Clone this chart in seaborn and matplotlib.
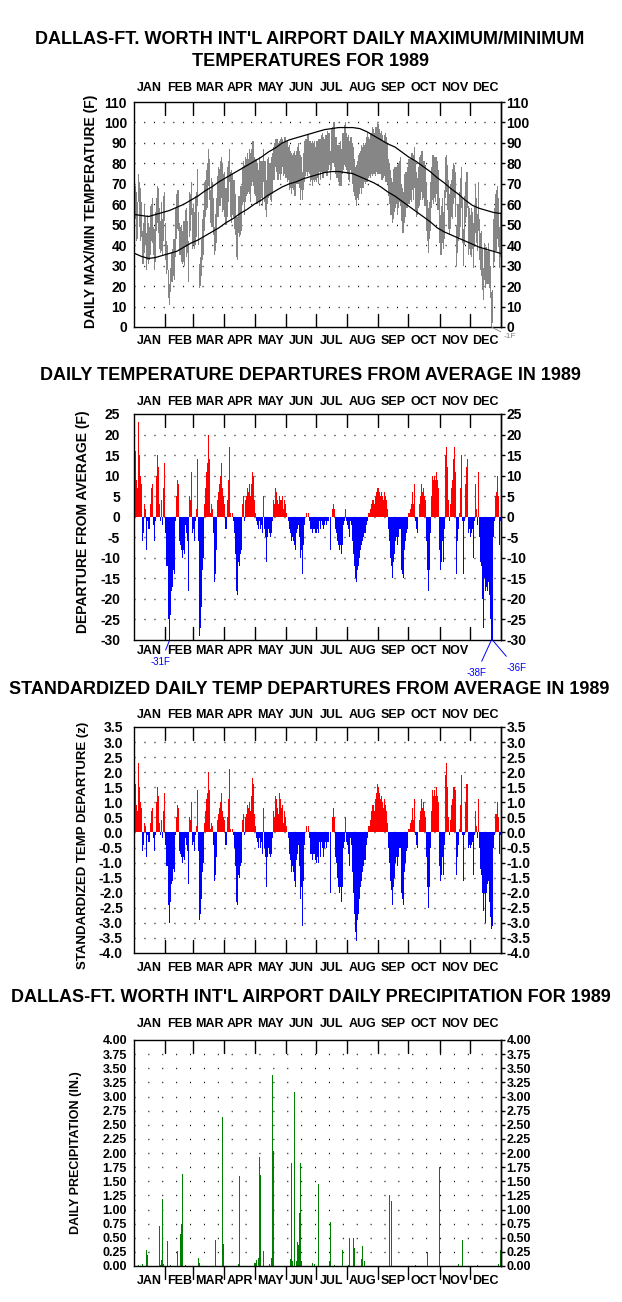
import numpy as np
import seaborn as sns
import matplotlib.pyplot as plt
from matplotlib.transforms import blended_transform_factory

months = ["JAN", "FEB", "MAR", "APR", "MAY", "JUN", "JUL", "AUG", "SEP", "OCT", "NOV", "DEC"]
month_days = [31, 28, 31, 30, 31, 30, 31, 31, 30, 31, 30, 31]

# daily maximum temperature (F), one list per month
tmax_by_month = [
    [60, 69, 66, 61, 75, 71, 68, 61, 47, 51, 60, 54, 46, 55, 51, 49, 59, 60, 63, 49, 48, 56, 63, 69, 68, 58, 52, 61, 53, 64, 66],
    [51, 42, 40, 28, 21, 29, 36, 38, 43, 43, 58, 65, 67, 67, 51, 49, 50, 47, 52, 52, 57, 58, 52, 42, 66, 65, 71, 58],
    [60, 56, 64, 66, 77, 56, 31, 34, 43, 53, 57, 71, 72, 77, 80, 87, 82, 67, 73, 71, 63, 49, 55, 63, 74, 78, 77, 81, 83, 80, 75],
    [76, 68, 78, 81, 87, 76, 77, 75, 72, 72, 65, 54, 54, 64, 64, 69, 69, 78, 81, 79, 83, 82, 85, 82, 87, 85, 87, 91, 91, 83],
    [82, 82, 80, 77, 83, 81, 81, 81, 87, 81, 81, 72, 82, 83, 80, 80, 83, 85, 88, 90, 92, 92, 92, 90, 91, 92, 93, 92, 90, 93, 93],
    [91, 91, 88, 89, 86, 85, 84, 85, 86, 84, 86, 88, 90, 86, 84, 83, 76, 85, 91, 92, 92, 94, 94, 91, 91, 90, 91, 90, 91, 88],
    [91, 91, 92, 92, 92, 94, 95, 93, 92, 94, 94, 96, 95, 95, 86, 97, 98, 100, 100, 93, 93, 89, 89, 89, 91, 87, 95, 95, 99, 100, 95],
    [93, 94, 91, 93, 93, 90, 88, 82, 78, 79, 81, 84, 85, 86, 89, 88, 90, 89, 90, 93, 95, 93, 92, 95, 95, 98, 97, 95, 98, 98, 100],
    [99, 97, 95, 96, 94, 91, 94, 95, 93, 90, 82, 80, 77, 73, 71, 77, 78, 78, 78, 79, 80, 81, 83, 70, 68, 66, 75, 76, 76, 78],
    [82, 82, 85, 85, 84, 88, 81, 76, 73, 78, 83, 84, 86, 86, 81, 81, 79, 71, 62, 58, 61, 71, 78, 84, 84, 83, 83, 83, 81, 77, 63],
    [55, 59, 63, 56, 67, 83, 84, 79, 72, 65, 70, 72, 77, 80, 79, 76, 50, 60, 60, 66, 73, 78, 63, 48, 64, 71, 76, 76, 59, 58],
    [55, 58, 56, 51, 59, 70, 63, 55, 71, 53, 46, 47, 38, 29, 41, 39, 39, 37, 41, 37, 30, 17, 18, 53, 58, 65, 67, 69, 63, 49, 56],
]

# daily minimum temperature (F)
tmin_by_month = [
    [40, 53, 42, 43, 61, 49, 42, 44, 31, 31, 36, 40, 28, 33, 31, 33, 35, 42, 41, 35, 28, 32, 47, 51, 46, 38, 36, 37, 35, 42, 52],
    [33, 26, 28, 14, 11, 17, 22, 22, 25, 23, 34, 43, 48, 47, 35, 35, 32, 31, 32, 30, 39, 34, 36, 22, 44, 47, 55, 38],
    [40, 38, 40, 44, 59, 40, 19, 20, 25, 33, 35, 47, 54, 57, 58, 69, 62, 51, 49, 49, 45, 35, 37, 41, 54, 54, 59, 59, 63, 56, 57],
    [54, 50, 54, 61, 71, 54, 51, 55, 54, 48, 45, 34, 33, 46, 44, 45, 47, 60, 61, 55, 61, 64, 65, 66, 65, 61, 69, 71, 69, 65],
    [64, 60, 60, 61, 59, 61, 63, 59, 71, 61, 57, 54, 60, 63, 64, 62, 61, 65, 72, 72, 78, 76, 72, 72, 75, 72, 75, 78, 74, 75, 73],
    [73, 71, 72, 67, 68, 65, 68, 67, 64, 64, 70, 70, 70, 68, 62, 67, 62, 67, 71, 74, 76, 74, 76, 75, 71, 72, 69, 72, 71, 72],
    [71, 73, 70, 76, 72, 76, 73, 73, 76, 76, 74, 74, 77, 79, 72, 77, 80, 80, 78, 75, 73, 73, 71, 69, 69, 69, 75, 77, 79, 78, 77],
    [75, 72, 71, 77, 75, 70, 66, 64, 62, 59, 63, 62, 65, 68, 65, 68, 68, 71, 70, 71, 71, 73, 74, 73, 75, 74, 75, 75, 74, 76, 75],
    [75, 75, 75, 72, 72, 73, 74, 71, 71, 70, 64, 60, 55, 55, 51, 53, 56, 58, 60, 55, 58, 61, 59, 52, 46, 46, 51, 54, 58, 58],
    [60, 62, 61, 67, 62, 68, 57, 54, 55, 58, 59, 62, 66, 62, 63, 59, 59, 47, 42, 36, 43, 47, 58, 62, 60, 63, 61, 65, 57, 57, 41],
    [35, 35, 41, 38, 43, 63, 66, 57, 48, 45, 48, 54, 53, 60, 63, 54, 30, 36, 42, 44, 49, 58, 41, 30, 40, 51, 54, 58, 35, 38],
    [35, 34, 38, 29, 39, 46, 41, 37, 47, 33, 28, 25, 18, 13, 23, 19, 21, 21, 21, 19, 14, -1, 2, 29, 32, 37, 37, 43, 39, 29, 34],
]

# normal max / min (F), read every 7th day
normal_day = list(range(1, 366, 7))
normal_max = [55, 54.5, 54, 55, 56, 57, 58.5, 60, 62, 64, 66.5, 68.5, 71, 73, 75, 77, 79, 81, 83, 85.5,
              87.5, 90, 91.5, 92.5, 93.5, 94.5, 95.5, 96.5, 97, 97.5, 97.5, 97.5, 97, 95.5, 93.5, 91.5,
              89.5, 88, 85.5, 83, 81, 78.5, 76, 73, 70.5, 67.5, 65, 62, 59.5, 58, 57, 56, 55.5]
normal_min = [36, 34.5, 33.5, 34, 35, 36, 37, 39, 41, 42.5, 44.5, 46.5, 48.5, 51, 53, 55.5, 57.5, 60, 62, 64.5,
              66.5, 68.5, 70, 71, 72.5, 73.5, 74.5, 75.5, 76, 76, 75.5, 75, 73.5, 72, 70.5, 68.5,
              66, 64, 61.5, 59, 56.5, 54, 51.5, 48.5, 46.5, 45, 43.5, 42, 40.5, 39, 38, 37, 36]

# daily departure from average (F)
dep_by_month = [
    [5, 16, 9, 7, 23, 15, 10, 8, -6, -4, 3, 2, -8, -1, -3, -3, 3, 7, 8, -2, -6, -1, 10, 15, 12, 3, -1, 4, -2, 7, 13],
    [-4, -12, -12, -25, -31, -24, -18, -17, -13, -14, -1, 5, 9, 8, -6, -7, -8, -10, -8, -9, -2, -4, -6, -18, 5, 4, 11, -4],
    [-3, -6, -1, 2, 14, -6, -29, -27, -22, -13, -10, 3, 7, 11, 13, 20, 14, 1, 3, 2, -4, -16, -14, -8, 4, 6, 8, 10, 13, 7, 5],
    [3, -3, 4, 9, 17, 1, 0, 1, -1, -4, -9, -18, -19, -11, -12, -9, -8, 3, 5, -1, 4, 5, 7, 6, 8, 5, 8, 11, 10, 4],
    [1, -1, -2, -3, -1, -3, -2, -4, 5, -3, -5, -11, -5, -3, -4, -5, -4, -1, 4, 3, 7, 6, 4, 3, 5, 4, 4, 5, 2, 4, 3],
    [1, 0, -1, -3, -4, -6, -5, -6, -7, -8, -4, -3, -2, -5, -10, -8, -14, -7, -2, 0, 1, 0, 1, -1, -3, -3, -4, -3, -3, -4],
    [-4, -3, -4, -1, -3, -1, -2, -3, -2, -1, -2, -1, -1, 0, -8, 0, 2, 3, 2, -3, -4, -6, -7, -8, -7, -9, -7, -2, -1, 2, -1],
    [-2, -3, -5, -1, -2, -6, -9, -12, -15, -16, -13, -12, -10, -8, -7, -6, -5, -4, -4, -2, -1, 1, 1, 2, 3, 4, 4, 3, 5, 6, 7],
    [7, 6, 5, 6, 5, 4, 6, 5, 4, 2, -3, -6, -10, -12, -15, -11, -9, -6, -5, -7, -5, -3, -3, -13, -14, -15, -8, -6, -4, -3],
    [1, 2, 3, 6, 3, 8, -1, -3, -4, 0, 3, 5, 8, 6, 7, 5, 4, -6, -13, -18, -13, -4, 5, 10, 9, 10, 9, 11, 9, 7, -8],
    [-13, -11, -6, -11, -3, 15, 17, 12, 4, -1, 3, 7, 9, 14, 17, 11, -14, -6, -3, 1, 7, 15, -1, -14, -1, 8, 12, 14, -4, -3],
    [-5, -4, -3, -10, -1, 8, 2, -2, 11, -5, -11, -12, -20, -27, -15, -18, -17, -18, -16, -19, -25, -38, -36, -5, -1, 5, 6, 10, 5, -7, -1],
]

# standardized daily departure (z)
z_by_month = [
    [0.5, 1.6, 0.9, 0.7, 2.3, 1.5, 1.0, 0.8, -0.6, -0.4, 0.3, 0.2, -0.8, -0.1, -0.3, -0.3, 0.3, 0.7, 0.8, -0.2, -0.6, -0.1, 1.0, 1.5, 1.2, 0.3, -0.1, 0.4, -0.2, 0.7, 1.3],
    [-0.4, -1.1, -1.1, -2.4, -3.0, -2.3, -1.7, -1.6, -1.2, -1.3, -0.1, 0.5, 0.9, 0.8, -0.6, -0.7, -0.8, -1.0, -0.8, -0.9, -0.2, -0.4, -0.6, -1.7, 0.5, 0.4, 1.0, -0.4],
    [-0.3, -0.6, -0.1, 0.2, 1.4, -0.6, -2.9, -2.7, -2.2, -1.3, -1.0, 0.3, 0.7, 1.1, 1.3, 2.0, 1.4, 0.1, 0.3, 0.2, -0.4, -1.6, -1.4, -0.8, 0.4, 0.6, 0.8, 1.0, 1.3, 0.7, 0.5],
    [0.4, -0.4, 0.5, 1.1, 2.1, 0.1, 0.0, 0.1, -0.1, -0.5, -1.1, -2.3, -2.4, -1.4, -1.5, -1.1, -1.0, 0.4, 0.6, -0.1, 0.5, 0.6, 0.9, 0.8, 1.0, 0.7, 1.2, 1.8, 1.6, 0.6],
    [0.2, -0.2, -0.3, -0.5, -0.2, -0.5, -0.3, -0.7, 0.8, -0.5, -0.8, -1.8, -0.8, -0.5, -0.7, -0.8, -0.7, -0.2, 0.7, 0.5, 1.2, 1.1, 0.8, 0.6, 1.3, 1.1, 0.8, 0.9, 0.3, 0.7, 0.5],
    [0.2, 0.0, -0.2, -0.7, -0.9, -1.3, -1.1, -1.3, -1.6, -1.8, -0.9, -0.7, -0.4, -1.1, -2.2, -1.8, -3.1, -1.6, -0.4, 0.0, 0.2, 0.0, 0.2, -0.2, -0.7, -0.7, -0.9, -0.7, -0.7, -0.9],
    [-1.0, -0.8, -1.0, -0.3, -0.8, -0.3, -0.5, -0.8, -0.5, -0.3, -0.5, -0.3, -0.3, 0.0, -2.0, 0.0, 0.5, 0.8, 0.5, -0.8, -1.0, -1.5, -1.8, -2.0, -1.8, -2.3, -1.8, -0.5, -0.3, 0.5, -0.3],
    [-0.4, -0.7, -1.1, -0.2, -0.4, -1.3, -2.0, -2.7, -3.3, -3.6, -2.9, -2.7, -2.2, -1.8, -1.6, -1.3, -1.1, -0.9, -0.9, -0.4, -0.2, 0.2, 0.2, 0.4, 0.7, 0.9, 0.9, 0.7, 1.1, 1.3, 1.6],
    [1.5, 1.3, 1.1, 1.2, 1.0, 0.8, 1.1, 0.9, 0.7, 0.3, -0.5, -1.0, -1.6, -1.9, -2.4, -1.8, -1.5, -1.0, -0.8, -1.1, -0.8, -0.5, -0.5, -2.0, -2.2, -2.4, -1.3, -1.0, -0.6, -0.5],
    [0.1, 0.3, 0.4, 0.8, 0.4, 1.1, -0.1, -0.4, -0.5, 0.0, 0.4, 0.7, 1.1, 0.8, 1.0, 0.7, 0.5, -0.8, -1.8, -2.5, -1.8, -0.5, 0.7, 1.4, 1.2, 1.4, 1.2, 1.5, 1.2, 1.0, -1.1],
    [-1.6, -1.4, -0.8, -1.4, -0.4, 1.9, 2.3, 1.5, 0.5, -0.1, 0.4, 0.9, 1.1, 1.5, 1.5, 1.4, -1.4, -0.8, -0.4, 0.1, 0.9, 1.9, -0.1, -1.6, -0.1, 1.0, 1.6, 1.6, -0.5, -0.4],
    [-0.5, -0.4, -0.3, -1.4, -0.1, 0.7, 0.2, -0.2, 1.1, -0.5, -1.2, -1.4, -2.0, -2.6, -2.0, -3.0, -2.0, -1.7, -1.6, -2.3, -2.8, -3.2, -3.1, -0.5, -0.1, 0.6, 0.6, 1.0, 0.5, -0.7, -0.1],
]

# daily precipitation (in.), only days with rain
precip_day = [5, 9, 13, 14, 26, 27, 28, 29, 30, 34, 37, 44, 47, 48, 49, 52, 65, 66, 82, 89, 90, 104, 105,
              120, 121, 122, 124, 125, 126, 129, 135, 137, 138, 139, 156, 157, 158, 160, 162, 163, 164, 165,
              166, 167, 178, 180, 184, 195, 196, 200, 208, 214, 215, 219, 220, 227, 228, 230, 255, 257,
              280, 292, 304, 323, 327, 342, 363, 365]
precip_in = [0.02, 0.04, 0.28, 0.19, 0.71, 0.02, 0.10, 1.19, 0.03, 0.45, 0.01, 0.27, 0.57, 0.75, 1.63, 0.01, 0.15, 0.05, 0.46, 2.63, 0.39, 0.03, 1.60,
             0.05, 0.05, 0.10, 0.15, 1.93, 1.61, 0.27, 0.03, 0.14, 3.38, 2.04, 0.12, 1.82, 0.08, 3.08, 0.09, 0.42, 0.37, 0.93,
             1.82, 0.09, 0.05, 0.03, 1.45, 0.08, 0.77, 0.01, 0.28, 0.02, 0.49, 0.49, 0.31, 0.12, 0.35, 0.09, 1.26, 1.15,
             0.02, 0.25, 1.76, 0.03, 0.46, 0.02, 0.03, 0.28]

tmax = np.concatenate(tmax_by_month)
tmin = np.concatenate(tmin_by_month)
dep = np.concatenate(dep_by_month)
zdep = np.concatenate(z_by_month)
days = np.arange(1, len(tmax) + 1)

sns.set_theme(style="white")
plt.rcParams['font.family'] = ['Liberation Sans', 'DejaVu Sans']
plt.rcParams['font.weight'] = 'bold'
plt.rcParams['text.color'] = 'black'
plt.rcParams['ytick.color'] = 'black'
NARROW = ['Liberation Sans Narrow', 'Liberation Sans', 'DejaVu Sans']

W, H = 622, 1302
fig = plt.figure(figsize=(W / 100, H / 100), dpi=100)
fig.patch.set_facecolor('white')

cum = np.concatenate([[0], np.cumsum(month_days)])
bounds = cum + 0.5
centers = (cum[:-1] + cum[1:]) / 2 + 0.5


def panel(top, bottom, ylim, ticks, labels, grid, dots, lpad, rpad,
          tsize=10, out_bottom=False, bottom_months=months, top_off=14, bot_off=14):
    ax = fig.add_axes([134 / W, 1 - bottom / H, 367 / W, (bottom - top) / H])
    ax.set_xlim(0.5, 365.5)
    ax.set_ylim(*ylim)
    ax.set_xticks([])
    for s in ax.spines.values():
        s.set_color('black')
        s.set_linewidth(1.0)
    for g in grid:
        ax.axhline(g, color='black', lw=1.0, ls=(0, dots), zorder=0.5)
    ax.set_yticks(ticks, labels, fontfamily=NARROW, fontsize=tsize, fontweight='bold')
    ax.tick_params(axis='y', length=0, pad=lpad)
    sec = ax.secondary_yaxis('right')
    sec.set_yticks(ticks, labels, fontfamily=NARROW, fontsize=tsize, fontweight='bold')
    sec.tick_params(axis='y', length=3, width=1, color='black', direction='out', pad=1)
    sec.spines['right'].set_color('black')
    sec.spines['right'].set_linewidth(1.0)

    # month ticks
    tl = 13 / (bottom - top)
    tr = ax.get_xaxis_transform()
    for b in bounds[1:-1]:
        ax.plot([b, b], [1, 1 - tl], transform=tr, color='black', lw=1.0)
        if out_bottom:
            ax.plot([b, b], [0, -tl], transform=tr, color='black', lw=1.0, clip_on=False)
        else:
            ax.plot([b, b], [0, tl], transform=tr, color='black', lw=1.0)

    bt = blended_transform_factory(ax.transData, fig.transFigure)
    for c, m in zip(centers, months):
        ax.text(c, 1 - (top - top_off) / H, m, transform=bt, ha='center', va='center',
                fontfamily=NARROW, fontsize=9, fontweight='bold')
    for c, m in zip(centers, bottom_months):
        if m:
            ax.text(c, 1 - (bottom + bot_off) / H, m, transform=bt, ha='center', va='center',
                    fontfamily=NARROW, fontsize=9, fontweight='bold')
    return ax


def ftext(x, y, s, **kw):
    fig.text(x / W, 1 - y / H, s, ha='center', va='center', fontweight='bold', **kw)


# ---- panel 1: max/min temperatures
ftext(310, 40, "DALLAS-FT. WORTH INT'L AIRPORT DAILY MAXIMUM/MINIMUM", fontsize=13)
ftext(311, 62, "TEMPERATURES FOR 1989", fontsize=13)
t1 = list(range(0, 111, 10))
ax1 = panel(102, 327, (0, 110), t1, [str(t) for t in t1], t1[1:-1], (0.7, 6.3), 5, 1)
ax1.bar(days, tmax - tmin, bottom=tmin, width=1.0, color='#868686', linewidth=0, zorder=2)
sns.lineplot(x=normal_day, y=normal_max, color='black', lw=0.9, ax=ax1, zorder=3)
sns.lineplot(x=normal_day, y=normal_min, color='black', lw=0.9, ax=ax1, zorder=3)
ax1.set_xlabel('')
ax1.set_ylabel('')
dlow = days[np.argmin(tmin)]
ax1.annotate(f"{tmin.min()}F", xy=(dlow, 0), xytext=(9, -7), textcoords='offset points',
             color='#808080', fontsize=6, fontweight='normal', ha='left', va='center',
             annotation_clip=False,
             arrowprops=dict(arrowstyle='-', color='#808080', lw=0.6, shrinkA=0, shrinkB=0))
ftext(91, 211, "DAILY MAX/MIN TEMPERATURE (F)", fontsize=10, rotation=90)

# ---- panel 2: departures
ftext(310, 376, "DAILY TEMPERATURE DEPARTURES FROM AVERAGE IN 1989", fontsize=13)
t2 = list(range(25, -31, -5))
ax2 = panel(414, 640, (-30, 25), t2, [str(t) for t in t2], t2[1:-1], (0.7, 6.5), 10, 6,
            bottom_months=months[:-1] + [''], top_off=12, bot_off=11)
ax2.bar(days, dep, width=1.0, color=np.where(dep >= 0, 'red', 'blue'), linewidth=0,
        antialiased=False, zorder=2)
offsets = [(-6.5, -16), (-11, -24), (17, -20)]
for d, off in zip(days[dep < -30], offsets):
    ax2.annotate(f"{dep[d - 1]}F", xy=(d, -30), xytext=off, textcoords='offset points',
                 color='blue', fontsize=7, fontweight='normal', fontfamily=NARROW,
                 ha='center', va='center', annotation_clip=False,
                 arrowprops=dict(arrowstyle='-', color='blue', lw=0.7, shrinkA=3, shrinkB=0))
ftext(83, 522, "DEPARTURE FROM AVERAGE (F)", fontsize=10, rotation=90)

# ---- panel 3: standardized departures
ftext(309, 690, "STANDARDIZED DAILY TEMP DEPARTURES FROM AVERAGE IN 1989", fontsize=13)
t3 = [3.5 - 0.5 * i for i in range(16)]
ax3 = panel(727, 953, (-4, 3.5), t3, [f"{t:.1f}" for t in t3], t3[1:-1], (0.7, 6.5), 8, 6,
            top_off=12, bot_off=15)
ax3.bar(days, zdep, width=1.0, color=np.where(zdep >= 0, 'red', 'blue'), linewidth=0,
        antialiased=False, zorder=2)
ftext(83, 845, "STANDARDIZED TEMP DEPARTURE (z)", fontsize=9.5, rotation=90)

# ---- panel 4: precipitation
ftext(311, 998, "DALLAS-FT. WORTH INT'L AIRPORT DAILY PRECIPITATION FOR 1989", fontsize=13)
t4 = [4 - 0.25 * i for i in range(17)]
ax4 = panel(1040, 1266, (0, 4), t4, [f"{t:.2f}" for t in t4], t4[1:-1], (0.7, 9.3), 5, 1,
            tsize=9, out_bottom=True, top_off=16, bot_off=15)
ax4.bar(precip_day, precip_in, width=1.0, color='green', linewidth=0, antialiased=False, zorder=2)
ftext(76, 1153, "DAILY PRECIPITATION (IN.)", fontsize=9, rotation=90)

fig.savefig('out.png', dpi=100, facecolor='white')
